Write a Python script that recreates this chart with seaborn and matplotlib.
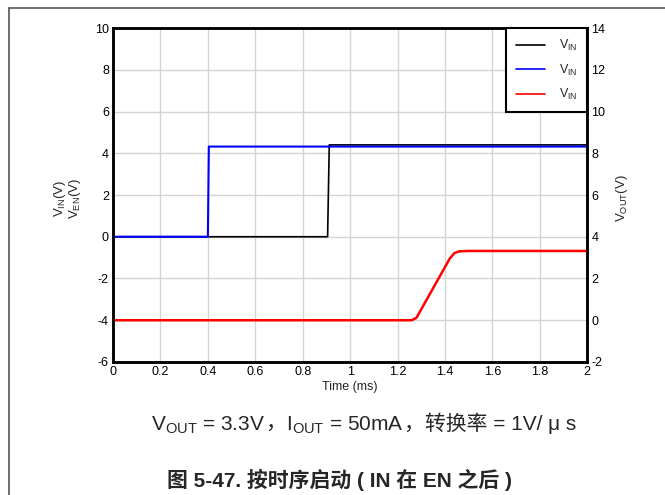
import numpy as np
import pandas as pd
import matplotlib
matplotlib.use("Agg")
from matplotlib import pyplot as plt
from matplotlib.lines import Line2D
from matplotlib.offsetbox import TextArea, HPacker, AnchoredOffsetbox
import seaborn as sns

# waveform data read from the scope capture
vin_time = [0.0, 0.905, 0.912, 2.0]
vin_volt = [0.0, 0.0, 4.40, 4.40]
en_time = [0.0, 0.400, 0.404, 2.0]
en_volt = [0.0, 0.0, 4.32, 4.32]
vout_time = [0.0, 1.26, 1.28, 1.42, 1.44, 1.46, 1.50, 2.0]
vout_volt = [0.0, 0.0, 0.12, 2.95, 3.22, 3.30, 3.32, 3.32]

legend_labels = [r"V$_\mathregular{IN}$", r"V$_\mathregular{IN}$", r"V$_\mathregular{IN}$"]
x_ticks = [0, 0.2, 0.4, 0.6, 0.8, 1, 1.2, 1.4, 1.6, 1.8, 2]
x_tick_labels = ["0", "0.2", "0.4", "0.6", "0.8", "1", "1.2", "1.4", "1.6", "1.8", "2"]

sns.set_style("whitegrid")
plt.rcParams['font.family'] = ['Liberation Sans', 'Noto Sans CJK SC', 'DejaVu Sans']
plt.rcParams['mathtext.fontset'] = 'custom'
plt.rcParams['mathtext.rm'] = 'Liberation Sans'
plt.rcParams['axes.unicode_minus'] = False

fig = plt.figure(figsize=(6.65, 4.95), dpi=100)
ax = fig.add_axes([0.170, 0.2687, 0.713, 0.6747])
ax2 = ax.twinx()

vin = pd.DataFrame({"t": vin_time, "v": vin_volt})
en = pd.DataFrame({"t": en_time, "v": en_volt})
vout = pd.DataFrame({"t": vout_time, "v": vout_volt})

sns.lineplot(data=vin, x="t", y="v", ax=ax, color="black", lw=1.2, legend=False)
sns.lineplot(data=en, x="t", y="v", ax=ax, color="#0000ff", lw=1.5, legend=False)
sns.lineplot(data=vout, x="t", y="v", ax=ax2, color="#ff0000", lw=1.8, legend=False)

ax.set_xlim(0, 2)
ax.set_ylim(-6, 10)
ax2.set_ylim(-2, 14)
ax.set_xticks(x_ticks)
ax.set_xticklabels(x_tick_labels)
ax.set_yticks(np.arange(-6, 11, 2))
ax2.set_yticks(np.arange(-2, 15, 2))
ax2.grid(False)
ax.grid(True, color="#d4d4d4", lw=1.0)

for a in (ax, ax2):
    a.tick_params(length=0, labelsize=9, pad=3, colors="black")
    for s in a.spines.values():
        s.set_color("black")
        s.set_linewidth(1.8)

ax.set_xlabel("Time (ms)", fontsize=9, labelpad=2)
ax.set_ylabel("")
ax2.set_ylabel("")
fig.text(0.090, 0.60, r"V$_\mathregular{IN}$(V)", rotation=90, fontsize=9.5, ha="center", va="center")
fig.text(0.113, 0.60, r"V$_\mathregular{EN}$(V)", rotation=90, fontsize=9.5, ha="center", va="center")
fig.text(0.935, 0.60, r"V$_\mathregular{OUT}$(V)", rotation=90, fontsize=9.5, ha="center", va="center")

handles = [Line2D([], [], color="black", lw=1.2),
           Line2D([], [], color="#0000ff", lw=1.2),
           Line2D([], [], color="#ff0000", lw=1.2)]
leg = ax2.legend(handles, legend_labels, loc="upper right", fontsize=9, frameon=True,
                 fancybox=False, borderaxespad=0, handlelength=2.3, labelspacing=0.75,
                 borderpad=0.8, handletextpad=1.1)
leg.get_frame().set_edgecolor("black")
leg.get_frame().set_linewidth(1.5)
leg.get_frame().set_alpha(1)

# condition line: mathtext pieces and CJK pieces packed side by side
cjk = ['Liberation Sans', 'Noto Sans CJK SC', 'DejaVu Sans']
fs = 15
pieces = [
    TextArea(r"V$_\mathregular{OUT}$ = 3.3V ", textprops=dict(fontsize=fs)),
    TextArea("，", textprops=dict(fontsize=fs, family=cjk)),
    TextArea(r"I$_\mathregular{OUT}$ = 50mA ", textprops=dict(fontsize=fs)),
    TextArea("，转换率 = 1V/ μ s", textprops=dict(fontsize=fs, family=cjk)),
]
box = HPacker(children=pieces, align="baseline", pad=0, sep=0)
anch = AnchoredOffsetbox(loc="center", child=box, frameon=False,
                         bbox_to_anchor=(0.547, 0.143), bbox_transform=fig.transFigure,
                         borderpad=0, pad=0)
fig.add_artist(anch)

fig.text(0.511, 0.030, "图 5-47. 按时序启动 ( IN 在 EN 之后 )", fontsize=15, fontweight="bold",
         ha="center", va="center", family=cjk)

# page frame lines
fig.add_artist(Line2D([0.0135, 1.0], [0.984, 0.984], color="#555555", lw=1.2))
fig.add_artist(Line2D([0.0135, 0.0135], [0.0, 0.984], color="#555555", lw=1.2))

fig.savefig("out.png", dpi=100)
